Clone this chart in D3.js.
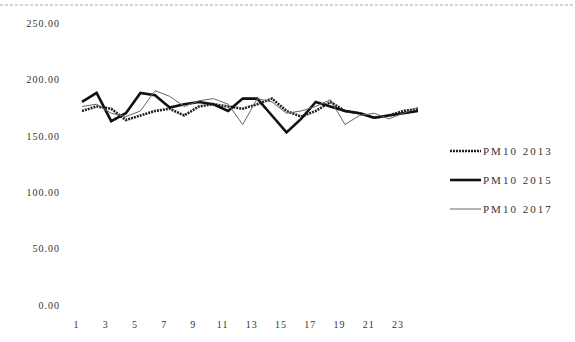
<!DOCTYPE html>
<html>
<head>
<meta charset="utf-8">
<script src="https://cdn.jsdelivr.net/npm/d3@7"></script>
<style>
  body { margin: 0; background: #fff; }
  svg text { font-family: "Liberation Serif", "DejaVu Serif", serif; fill: #333; }
</style>
</head>
<body>
<svg id="chart" width="575" height="342"></svg>
<script>
var hours = d3.range(1, 25),
    tickHours = [1, 3, 5, 7, 9, 11, 13, 15, 17, 19, 21, 23],
    yTicks = [0, 50, 100, 150, 200, 250];

var pm2013 = [172, 176, 174, 164, 168, 172, 174, 168, 176, 178, 176, 174, 178, 183, 172, 167, 172, 180, 172, 170, 166, 168, 172, 174];
var pm2015 = [180, 188, 163, 170, 188, 186, 175, 178, 180, 178, 172, 183, 183, 168, 153, 165, 180, 176, 172, 170, 166, 168, 170, 172];
var pm2017 = [176, 178, 170, 167, 172, 190, 185, 176, 181, 183, 178, 160, 183, 180, 170, 172, 176, 182, 160, 168, 170, 165, 170, 175];

var series = [
    { name: "PM10  2013", values: pm2013, width: 2.6, dash: "2,1", color: "#222" },
    { name: "PM10  2015", values: pm2015, width: 2.6, dash: null, color: "#111" },
    { name: "PM10  2017", values: pm2017, width: 1, dash: null, color: "#666" }
];

var svg = d3.select("#chart");

var x = d3.scalePoint().domain(hours).range([82, 418]);
var y = d3.scaleLinear().domain([0, 250]).range([305, 23]);

// scan border at the top
svg.append("line")
    .attr("x1", 0).attr("x2", 575)
    .attr("y1", 5).attr("y2", 5)
    .attr("stroke", "#aaa")
    .attr("stroke-width", 1)
    .attr("stroke-dasharray", "3,2");

var yAxis = d3.axisLeft(y).tickValues(yTicks).tickSize(0).tickPadding(0)
    .tickFormat(d3.format(".2f"));
svg.append("g")
    .attr("transform", "translate(60,0)")
    .call(yAxis)
    .call(function(g) { g.select(".domain").remove(); })
    .selectAll("text")
    .attr("font-size", "10px")
    .attr("letter-spacing", "1px")
    .attr("fill", "#333");

var xAxis = d3.axisBottom(x).tickValues(tickHours).tickSize(0).tickPadding(0);
svg.append("g")
    .attr("transform", "translate(-6,321)")
    .call(xAxis)
    .call(function(g) { g.select(".domain").remove(); })
    .selectAll("text")
    .attr("font-size", "10px")
    .attr("letter-spacing", "1px")
    .attr("fill", "#333");

var line = d3.line()
    .x(function(d, i) { return x(hours[i]); })
    .y(function(d) { return y(d); });

svg.selectAll("path.series")
    .data(series)
    .enter()
    .append("path")
    .attr("class", "series")
    .attr("fill", "none")
    .attr("stroke", function(d) { return d.color; })
    .attr("stroke-width", function(d) { return d.width; })
    .attr("stroke-dasharray", function(d) { return d.dash; })
    .attr("stroke-linejoin", "miter")
    .attr("d", function(d) { return line(d.values); });

// legend
var legend = svg.selectAll("g.legend")
    .data(series)
    .enter()
    .append("g")
    .attr("class", "legend")
    .attr("transform", function(d, i) { return "translate(450," + (151 + i * 29) + ")"; });

legend.append("line")
    .attr("x1", 0).attr("x2", 31)
    .attr("stroke", function(d) { return d.color; })
    .attr("stroke-width", function(d) { return d.width; })
    .attr("stroke-dasharray", function(d) { return d.dash; });

legend.append("text")
    .attr("x", 33)
    .attr("dy", "0.35em")
    .attr("font-size", "11px")
    .attr("letter-spacing", "2px")
    .text(function(d) { return d.name; });
</script>
</body>
</html>
